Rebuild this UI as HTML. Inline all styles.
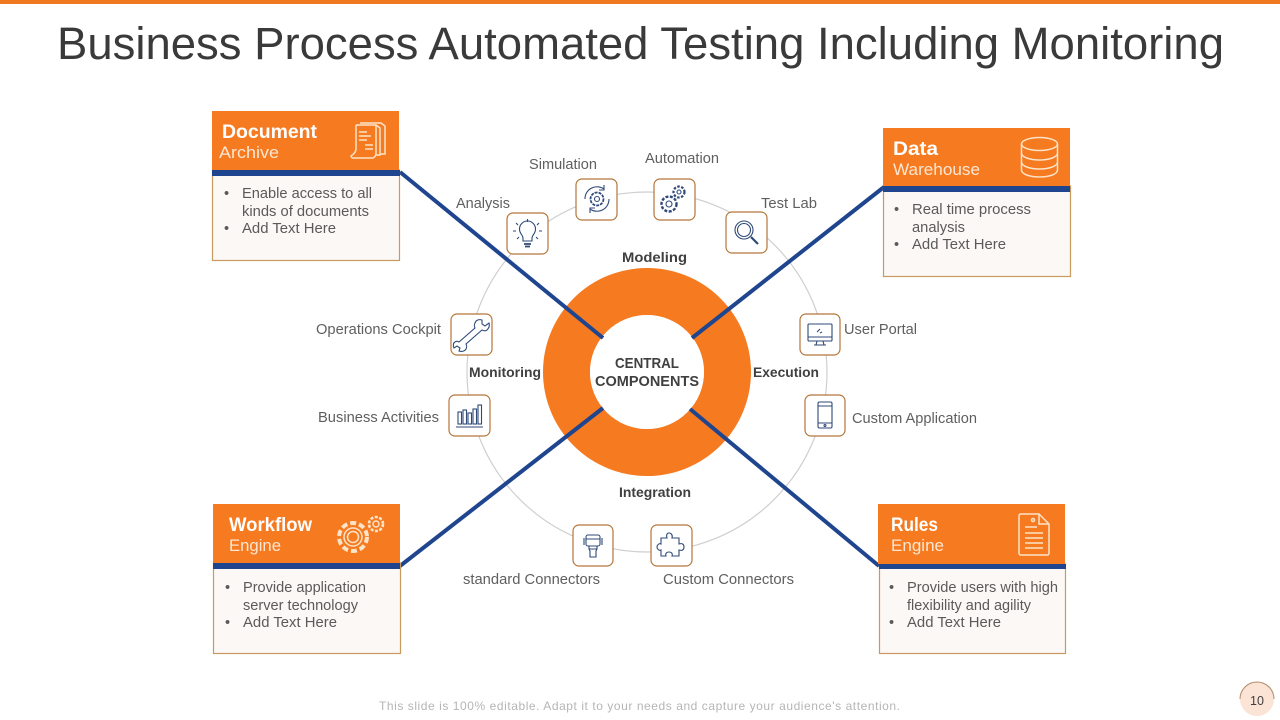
<!DOCTYPE html>
<html><head><meta charset="utf-8"><style>
html,body{margin:0;padding:0;background:#fff;width:1280px;height:720px;overflow:hidden}
svg{display:block}
text{font-family:"Liberation Sans",sans-serif}
.b{font-size:14.5px;fill:#5a5a5a}
.l{font-size:14.5px;fill:#5f5f5f}
.h{font-size:19px;font-weight:bold;fill:#fff}
.s{font-size:17px;fill:#fde6d2}
.m{font-size:13.5px;font-weight:bold;fill:#404040}
.ib{fill:#fff;stroke:#b5763a;stroke-width:1.2}
.ic{fill:none;stroke:#2f4a78;stroke-width:1.1}
.wi{fill:none;stroke:#fde3c8;stroke-width:1.5}
.box{fill:#fcf8f5;stroke:#c89a60;stroke-width:1.2}
</style></head><body>
<svg width="1280" height="720" viewBox="0 0 1280 720" xmlns="http://www.w3.org/2000/svg">
<rect x="0" y="0" width="1280" height="4" fill="#f0791f"/>
<text x="57" y="59" font-size="45" fill="#3a3a3a" textLength="1167" lengthAdjust="spacingAndGlyphs">Business Process Automated Testing Including Monitoring</text>

<circle cx="647" cy="372" r="180" fill="none" stroke="#cfcfcf" stroke-width="1.2"/>
<circle cx="647" cy="372" r="80.5" fill="none" stroke="#f57a20" stroke-width="47"/>
<circle cx="647" cy="372" r="57" fill="#fff"/>
<g stroke="#20458f" stroke-width="4" fill="none">
<line x1="400" y1="172" x2="603" y2="338"/>
<line x1="884" y1="187" x2="692" y2="338"/>
<line x1="400" y1="566" x2="603" y2="408"/>
<line x1="879" y1="566" x2="690" y2="409"/>
</g>
<text x="647" y="368" text-anchor="middle" font-size="15" font-weight="bold" fill="#404040" textLength="64" lengthAdjust="spacingAndGlyphs">CENTRAL</text>
<text x="647" y="386" text-anchor="middle" font-size="14.5" font-weight="bold" fill="#404040" textLength="104" lengthAdjust="spacingAndGlyphs">COMPONENTS</text>
<text class="m" x="622" y="262" textLength="65" lengthAdjust="spacingAndGlyphs">Modeling</text>
<text class="m" x="469" y="377" textLength="72" lengthAdjust="spacingAndGlyphs">Monitoring</text>
<text class="m" x="753" y="377" textLength="66" lengthAdjust="spacingAndGlyphs">Execution</text>
<text class="m" x="619" y="497" textLength="72" lengthAdjust="spacingAndGlyphs">Integration</text>

<!-- icon boxes -->
<rect class="ib" x="507" y="213" width="41" height="41" rx="6"/>
<rect class="ib" x="576" y="179" width="41" height="41" rx="6"/>
<rect class="ib" x="654" y="179" width="41" height="41" rx="6"/>
<rect class="ib" x="726" y="212" width="41" height="41" rx="6"/>
<rect class="ib" x="451" y="314" width="41" height="41" rx="6"/>
<rect class="ib" x="449" y="395" width="41" height="41" rx="6"/>
<rect class="ib" x="800" y="314" width="40" height="41" rx="6"/>
<rect class="ib" x="805" y="395" width="40" height="41" rx="6"/>
<rect class="ib" x="573" y="525" width="40" height="41" rx="6"/>
<rect class="ib" x="651" y="525" width="41" height="41" rx="6"/>

<!-- bulb -->
<g class="ic">
<path d="M523 241v-3c0-3-3.500-4-3.500-9a8 8 0 0 1 16 0c0 5-3.500 6-3.500 9v3z"/>
<path d="M524 244h7M525 246.500h5" stroke-width="1.800"/>
<path d="M527.500 219v3M516 223l2 2M539 223l-2 2M513 231h3M539 231h3M517 239l2-2M538 239l-2-2"/>
</g>
<!-- cycle gear -->
<g class="ic">
<circle cx="597" cy="199" r="6.500" stroke-dasharray="3 1" stroke-width="1.800"/>
<circle cx="597" cy="199" r="2.500"/>
<path d="M585 199a12 12 0 0 1 19-10M609 199a12 12 0 0 1-19 10"/>
<path d="M604 185v5h-5M590 213v-5h5"/>
</g>
<!-- gears -->
<g class="ic">
<circle cx="669" cy="204" r="7.500" stroke-dasharray="3 1.500" stroke-width="2.400"/>
<circle cx="669" cy="204" r="3"/>
<circle cx="679" cy="192" r="5.500" stroke-dasharray="2.500 1.500" stroke-width="2.200"/>
<circle cx="679" cy="192" r="2"/>
</g>
<!-- magnifier -->
<g class="ic">
<circle cx="744" cy="230" r="9"/><circle cx="744" cy="230" r="6.500"/>
<path d="M751 237l7 7" stroke-width="2.200"/>
</g>
<!-- wrench -->
<g class="ic">
<path d="M482 320c-3-1-6 0-7 3-1 2-1 3 0 5l-16 14c-2-1-3-1-4 0-2 1-2 4-1 6l3-2 3 2-1 3c3 1 6 0 7-2 1-2 1-3 0-5l16-14c2 1 4 1 5 0 2-2 3-4 2-7l-4 3-3-2z"/>
</g>
<!-- bars -->
<g class="ic">
<rect x="458" y="412" width="3.500" height="12"/><rect x="463" y="410" width="3.500" height="14"/><rect x="468" y="413" width="3.500" height="11"/><rect x="473" y="409" width="3.500" height="15"/><rect x="478" y="405" width="3.500" height="19"/>
<path d="M456 427h27"/>
</g>
<!-- monitor -->
<g class="ic">
<rect x="808" y="324" width="24" height="17" rx="1"/>
<path d="M808 337h24M817 341l-1 4M823 341l1 4M814 345h12M817 332l3-3M820 333l2-1"/>
</g>
<!-- phone -->
<g class="ic">
<rect x="818" y="402" width="14" height="26" rx="1.500"/>
<path d="M818 406h14M818 423h14"/><circle cx="825" cy="425.500" r="1"/>
</g>
<!-- connector -->
<g class="ic">
<rect x="586" y="535" width="14" height="11" rx="2"/>
<path d="M584 538v7M602 538v7M586 539h14M589 546v3l1 2v6h6v-6l1-2v-3M589 549h8"/>
</g>
<!-- puzzle -->
<path class="ic" d="M669 533c2 0 4 2 3 5h7v6c3-1 5 0 5 3s-2 4-5 3v6h-7c1-3-1-4-3-4s-4 1-3 4h-5v-6c-2 1-4-1-4-3s2-4 4-3v-6h6c-1-3 0-5 2-5z" stroke-width="1.500"/>

<text class="l" x="529" y="169" textLength="68" lengthAdjust="spacingAndGlyphs">Simulation</text>
<text class="l" x="645" y="163" textLength="74" lengthAdjust="spacingAndGlyphs">Automation</text>
<text class="l" x="456" y="208" textLength="54" lengthAdjust="spacingAndGlyphs">Analysis</text>
<text class="l" x="761" y="208" textLength="56" lengthAdjust="spacingAndGlyphs">Test Lab</text>
<text class="l" x="316" y="334" textLength="125" lengthAdjust="spacingAndGlyphs">Operations Cockpit</text>
<text class="l" x="318" y="422" textLength="121" lengthAdjust="spacingAndGlyphs">Business Activities</text>
<text class="l" x="844" y="334" textLength="73" lengthAdjust="spacingAndGlyphs">User Portal</text>
<text class="l" x="852" y="423" textLength="125" lengthAdjust="spacingAndGlyphs">Custom Application</text>
<text class="l" x="463" y="584" textLength="137" lengthAdjust="spacingAndGlyphs">standard Connectors</text>
<text class="l" x="663" y="584" textLength="131" lengthAdjust="spacingAndGlyphs">Custom Connectors</text>

<!-- Document -->
<rect class="box" x="212.500" y="170" width="187" height="90.500"/>
<rect x="212" y="111" width="187" height="59" fill="#f57a20"/>
<rect x="212" y="170" width="188" height="6" fill="#20458f"/>
<text class="h" x="222" y="138" textLength="95" lengthAdjust="spacingAndGlyphs">Document</text>
<text class="s" x="219" y="158" textLength="60" lengthAdjust="spacingAndGlyphs">Archive</text>
<g class="wi" stroke-width="1.200">
<path d="M356 125h20l4 3v27h-4M360 123h21l4 3v28h-5"/>
<path d="M356 125v24c0 3-2 5-5 7 0 1 1 2 2 2h20c2-1 3-3 3-5v-28"/>
<path d="M359 132h8M359 136h12M359 140h8M365 145h8M365 149h8"/>
</g>
<text class="b"><tspan x="224" y="198">•</tspan><tspan x="242" y="198" textLength="130" lengthAdjust="spacingAndGlyphs">Enable access to all</tspan></text>
<text class="b" x="242" y="216" textLength="127" lengthAdjust="spacingAndGlyphs">kinds of documents</text>
<text class="b"><tspan x="224" y="233">•</tspan><tspan x="242" y="233" textLength="94" lengthAdjust="spacingAndGlyphs">Add Text Here</tspan></text>

<!-- Data -->
<rect class="box" x="883.500" y="186" width="187" height="90.500"/>
<rect x="883" y="128" width="187" height="58" fill="#f57a20"/>
<rect x="883" y="186" width="187" height="6" fill="#20458f"/>
<text class="h" x="893" y="155" textLength="45" lengthAdjust="spacingAndGlyphs">Data</text>
<text class="s" x="893" y="175" textLength="87" lengthAdjust="spacingAndGlyphs">Warehouse</text>
<g class="wi">
<ellipse cx="1039.500" cy="144" rx="18" ry="6.500"/>
<path d="M1021.500 144v26c0 4 8 7 18 7s18-3 18-7v-26M1021.500 153c0 4 8 7 18 7s18-3 18-7M1021.500 162c0 4 8 7 18 7s18-3 18-7"/>
</g>
<text class="b"><tspan x="894" y="214">•</tspan><tspan x="912" y="214" textLength="119" lengthAdjust="spacingAndGlyphs">Real time process</tspan></text>
<text class="b" x="912" y="232" textLength="53" lengthAdjust="spacingAndGlyphs">analysis</text>
<text class="b"><tspan x="894" y="249">•</tspan><tspan x="912" y="249" textLength="94" lengthAdjust="spacingAndGlyphs">Add Text Here</tspan></text>

<!-- Workflow -->
<rect class="box" x="213.500" y="563" width="187" height="90.500"/>
<rect x="213" y="504" width="187" height="59" fill="#f57a20"/>
<rect x="213" y="563" width="187" height="6" fill="#20458f"/>
<text class="h" x="229" y="531" textLength="83" lengthAdjust="spacingAndGlyphs">Workflow</text>
<text class="s" x="229" y="551" textLength="52" lengthAdjust="spacingAndGlyphs">Engine</text>
<g class="wi">
<circle cx="353" cy="537" r="14" stroke-dasharray="6 3" stroke-width="4"/>
<circle cx="353" cy="537" r="9"/><circle cx="353" cy="537" r="5.500"/>
<circle cx="376" cy="524" r="7" stroke-dasharray="3 1.500" stroke-width="2.600"/>
<circle cx="376" cy="524" r="3"/>
</g>
<text class="b"><tspan x="225" y="592">•</tspan><tspan x="243" y="592" textLength="123" lengthAdjust="spacingAndGlyphs">Provide application</tspan></text>
<text class="b" x="243" y="610" textLength="115" lengthAdjust="spacingAndGlyphs">server technology</text>
<text class="b"><tspan x="225" y="627">•</tspan><tspan x="243" y="627" textLength="94" lengthAdjust="spacingAndGlyphs">Add Text Here</tspan></text>

<!-- Rules -->
<rect class="box" x="879.500" y="564" width="186" height="89.500"/>
<rect x="878" y="504" width="187" height="60" fill="#f57a20"/>
<rect x="879" y="564" width="187" height="5" fill="#20458f"/>
<text class="h" x="891" y="531" textLength="47" lengthAdjust="spacingAndGlyphs">Rules</text>
<text class="s" x="891" y="551" textLength="53" lengthAdjust="spacingAndGlyphs">Engine</text>
<g class="wi">
<path d="M1039 514h-18q-2 0-2 2v37q0 2 2 2h26q2 0 2-2v-29zM1039 514v10h10"/>
<circle cx="1033" cy="520" r="1.500"/>
<path d="M1025 527h12M1025 533h18M1025 538h18M1025 543h18M1025 548h18"/>
</g>
<text class="b"><tspan x="889" y="592">•</tspan><tspan x="907" y="592" textLength="151" lengthAdjust="spacingAndGlyphs">Provide users with high</tspan></text>
<text class="b" x="907" y="610" textLength="124" lengthAdjust="spacingAndGlyphs">flexibility  and agility</text>
<text class="b"><tspan x="889" y="627">•</tspan><tspan x="907" y="627" textLength="94" lengthAdjust="spacingAndGlyphs">Add Text Here</tspan></text>

<text x="379" y="710" font-size="12" fill="#b5b5b5" textLength="521">This slide is 100% editable. Adapt it to your needs and capture your audience's attention.</text>
<circle cx="1257" cy="699" r="17" fill="#fbe3d5"/>
<path d="M1240 699a17 17 0 0 1 34 0" fill="none" stroke="#b08a68" stroke-width="1"/>
<text x="1257" y="705" font-size="12.500" fill="#404040" text-anchor="middle">10</text>
</svg>
</body></html>
